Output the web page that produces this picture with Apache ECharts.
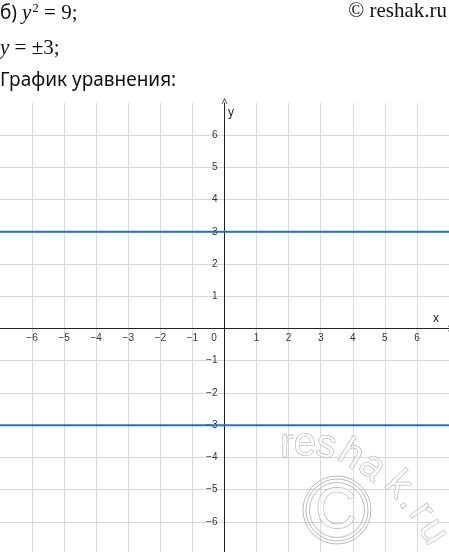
<!DOCTYPE html>
<html><head><meta charset="utf-8">
<script src="https://cdn.jsdelivr.net/npm/echarts@6/dist/echarts.min.js"></script>
<style>html,body{margin:0;padding:0;background:#fff}#c{width:449px;height:552px}</style>
</head><body><div id="c"></div>
<script>
// data
const lineX = [-7, 7];
const upperY = [3, 3];   // y = 3
const lowerY = [-3, -3]; // y = -3
const axisMin = -7, axisMax = 7, tickStep = 1;

// layout
const G = {left: 0, top: 103, width: 449, height: 451};
const zeroFracX = (0 - axisMin) / (axisMax - axisMin);
const zeroFracY = (axisMax - 0) / (axisMax - axisMin);
const xAxisOffset = -(G.height * (1 - zeroFracY)); // move x axis from bottom to y=0
const yAxisOffset = -(G.width * zeroFracX);        // move y axis from left to x=0

const chart = echarts.init(document.getElementById('c'), null, {renderer: 'canvas'});
const minus = v => (v < 0 ? '\u2212' + Math.abs(v) : String(v));
const chevron = 'path://M0,10 L5,0 L10,10 L8.8,10 L5,2.6 L1.2,10 Z';
const labelStyle = {color: '#333', fontSize: 10, fontFamily: 'Liberation Sans'};

// watermark letters: char, x, y, rotation
const wm = [
  ['r', 287, 446, 0.0], ['e', 305, 444, -0.05], ['s', 326, 446, -0.2],
  ['h', 351, 455, -0.55], ['a', 372, 467, -0.7], ['k', 398, 485, -0.8],
  ['.', 410, 500, -0.9], ['r', 421, 512, -0.95], ['u', 433, 532, -1.0]
];
const wmStroke = '#a8a8a8';

chart.setOption({
  animation: false,
  grid: {left: G.left, top: G.top, width: G.width, height: G.height, containLabel: false, outerBoundsMode: 'none'},
  xAxis: {
    type: 'value', min: axisMin, max: axisMax, interval: tickStep,
    position: 'bottom', offset: xAxisOffset,
    axisLine: {onZero: false, symbol: ['none', chevron], symbolSize: [8, 6], symbolOffset: [0, 2],
      lineStyle: {color: '#222', width: 1}},
    axisTick: {show: false},
    splitLine: {show: true, showMinLine: false, showMaxLine: false, lineStyle: {color: '#d8d8d8', width: 1}},
    axisLabel: Object.assign({}, labelStyle, {
      margin: 5,
      showMinLabel: false, showMaxLabel: false,
      formatter: v => v === 0 ? '{z|0}' : minus(v),
      rich: {z: {color: '#333', fontSize: 10, fontFamily: 'Liberation Sans', padding: [0, 21, 0, 0]}}
    })
  },
  yAxis: {
    type: 'value', min: axisMin, max: axisMax, interval: tickStep,
    position: 'left', offset: yAxisOffset,
    axisLine: {onZero: false, symbol: ['none', chevron], symbolSize: [8, 6], symbolOffset: [0, 2],
      lineStyle: {color: '#222', width: 1}},
    axisTick: {show: false},
    splitLine: {show: true, showMinLine: false, showMaxLine: false, lineStyle: {color: '#d8d8d8', width: 1}},
    axisLabel: Object.assign({}, labelStyle, {
      margin: 7,
      showMinLabel: false, showMaxLabel: false,
      formatter: v => v === 0 ? '' : minus(v)
    })
  },
  series: [
    {type: 'line', data: lineX.map((x, i) => [x, upperY[i]]), symbol: 'none',
     lineStyle: {color: '#2f6fba', width: 2}, z: 5},
    {type: 'line', data: lineX.map((x, i) => [x, lowerY[i]]), symbol: 'none',
     lineStyle: {color: '#2f6fba', width: 2}, z: 5}
  ],
  graphic: [
    {type: 'text', left: 0, top: 2, style: {
      text: '{a|б) }{i|y}{s|2}{m| = 9;}',
      rich: {
        a: {fontFamily: 'Noto Sans', fontSize: 19, fill: '#111'},
        i: {fontFamily: 'Liberation Serif', fontStyle: 'italic', fontSize: 21, fill: '#111'},
        s: {fontFamily: 'Liberation Serif', fontSize: 13, fill: '#111', verticalAlign: 'top', padding: [0, 0, 10, 1]},
        m: {fontFamily: 'Liberation Serif', fontSize: 21, fill: '#111'}
      }}},
    {type: 'text', right: 2, top: 1, style: {text: '© reshak.ru', fontFamily: 'Liberation Serif', fontSize: 21, fill: '#111'}},
    {type: 'text', left: 0, top: 38, style: {
      text: '{i|y}{m| = ±3;}',
      rich: {
        i: {fontFamily: 'Liberation Serif', fontStyle: 'italic', fontSize: 21, fill: '#111'},
        m: {fontFamily: 'Liberation Serif', fontSize: 21, fill: '#111'}
      }}},
    {type: 'text', left: 0, top: 71, style: {text: 'График уравнения:', fontFamily: 'Noto Sans', fontSize: 19, fill: '#111'}},
    {type: 'text', x: 228, y: 107, style: {text: 'y', fontFamily: 'Liberation Sans', fontSize: 12, fill: '#222'}},
    {type: 'text', x: 433, y: 313, style: {text: 'x', fontFamily: 'Liberation Sans', fontSize: 12, fill: '#222'}},
    {type: 'circle', shape: {cx: 337, cy: 510, r: 34}, style: {fill: 'none', stroke: wmStroke, lineWidth: 0.8}, z: 1},
    {type: 'circle', shape: {cx: 337, cy: 510, r: 31}, style: {fill: 'none', stroke: wmStroke, lineWidth: 0.8}, z: 1},
    {type: 'circle', shape: {cx: 337, cy: 510, r: 27.5}, style: {fill: 'none', stroke: wmStroke, lineWidth: 0.8}, z: 1},
    {type: 'text', x: 336, y: 512, style: {text: 'C', fontFamily: 'Liberation Sans', fontSize: 58, fill: 'rgba(255,255,255,0.6)', stroke: wmStroke, lineWidth: 0.8, align: 'center', verticalAlign: 'middle'}, z: 1}
  ].concat(wm.map(([ch, x, y, r]) => ({
    type: 'text', x: x, y: y, rotation: r, z: 1,
    style: {text: ch, fontFamily: 'Liberation Sans', fontSize: 40, fill: 'rgba(255,255,255,0.6)', stroke: wmStroke, lineWidth: 0.8, align: 'center', verticalAlign: 'middle'}
  })))
});
</script></body></html>
